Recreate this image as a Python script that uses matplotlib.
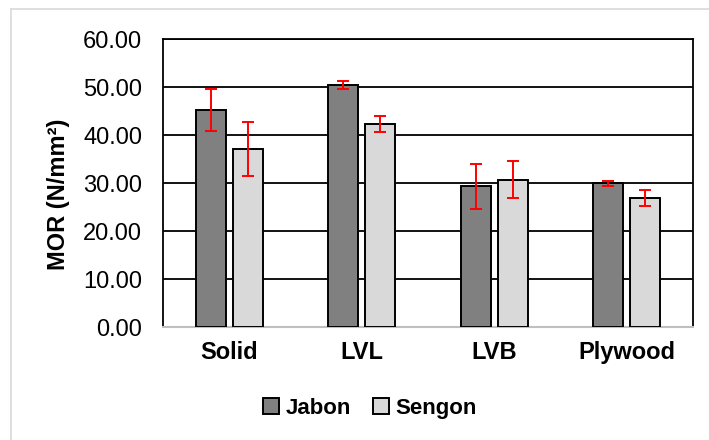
import matplotlib
matplotlib.use("Agg")
import matplotlib.pyplot as plt
from matplotlib.lines import Line2D
import numpy as np

plt.rcParams['font.family'] = ['Liberation Sans', 'DejaVu Sans']

# data
categories = ["Solid", "LVL", "LVB", "Plywood"]
jabon_mean = [45.2, 50.4, 29.3, 29.9]
jabon_err = [4.3, 0.9, 4.7, 0.55]
sengon_mean = [37.1, 42.3, 30.7, 26.9]
sengon_err = [5.6, 1.7, 3.9, 1.65]
yticks = [0, 10, 20, 30, 40, 50, 60]

fig = plt.figure(figsize=(7.09, 4.40), dpi=100)
ax = fig.add_axes([163 / 709, 113 / 440, 530 / 709, 288 / 440])

x = np.arange(len(categories))
w = 0.226
off = 0.141

ax.bar(x - off, jabon_mean, w, color='#808080', edgecolor='black', linewidth=1.4, zorder=3, label='Jabon')
ax.bar(x + off, sengon_mean, w, color='#D9D9D9', edgecolor='black', linewidth=1.4, zorder=3, label='Sengon')
ax.errorbar(x - off, jabon_mean, yerr=jabon_err, fmt='none', ecolor='red', elinewidth=1.4,
            capsize=4.5, capthick=1.4, zorder=4)
ax.errorbar(x + off, sengon_mean, yerr=sengon_err, fmt='none', ecolor='red', elinewidth=1.4,
            capsize=4.5, capthick=1.4, zorder=4)

ax.set_xlim(-0.5, len(categories) - 0.5)
ax.set_ylim(0, 60)
ax.set_yticks(yticks)
ax.set_yticklabels([f"{v:.2f}" for v in yticks], fontsize=17)
ax.set_xticks(x)
ax.set_xticklabels(categories, fontsize=17, fontweight='bold')
ax.tick_params(axis='y', length=0, pad=15)
ax.tick_params(axis='x', length=0, pad=10)

ax.grid(axis='y', color='black', linewidth=1.3, zorder=0)
ax.set_axisbelow(True)
for s in ['left', 'right', 'top']:
    ax.spines[s].set_color('black')
    ax.spines[s].set_linewidth(1.3)
ax.spines['bottom'].set_color('#BFBFBF')
ax.spines['bottom'].set_linewidth(1.5)

fig.text(58 / 709, 1 - 194 / 440, 'MOR (N/mm²)', rotation=90, ha='center', va='center',
         fontsize=17, fontweight='bold')

leg = fig.legend(loc='center', bbox_to_anchor=(370 / 709, 1 - 408 / 440), ncol=2, frameon=False,
                 prop={'size': 16, 'weight': 'bold'}, handlelength=0.7, handleheight=0.7,
                 handletextpad=0.3, columnspacing=1.0)

# light chart border (Excel chart area)
fig.add_artist(Line2D([11 / 709, 11 / 709], [0, 1 - 9 / 440], color='#D9D9D9', linewidth=1.2))
fig.add_artist(Line2D([11 / 709, 1], [1 - 9 / 440, 1 - 9 / 440], color='#D9D9D9', linewidth=1.2))

fig.savefig('out.png', dpi=100)
